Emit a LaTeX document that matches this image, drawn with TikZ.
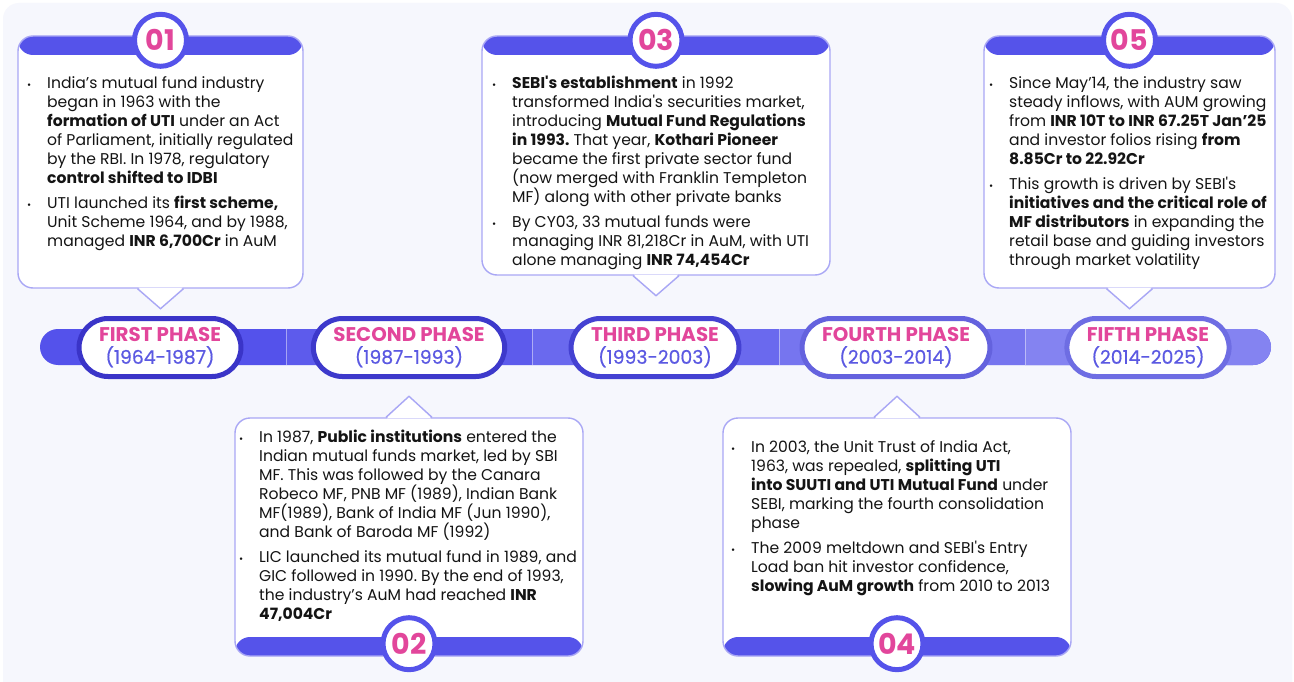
\documentclass[tikz,border=0pt]{standalone}
\usepackage{fontspec}
\setmainfont{Poppins}[Ligatures=TeXOff]
\usetikzlibrary{positioning}

\definecolor{panel}{HTML}{F6F7FD}
\definecolor{band}{HTML}{5553EA}
\definecolor{cardedge}{HTML}{A9A7F5}
\definecolor{pinky}{HTML}{E2469B}
\definecolor{yearblue}{HTML}{5B59E2}
\definecolor{ink}{HTML}{141414}
\definecolor{segA}{HTML}{5452EB}
\definecolor{segB}{HTML}{5D5BEC}
\definecolor{segC}{HTML}{6A69EE}
\definecolor{segD}{HTML}{7675EF}
\definecolor{segE}{HTML}{8483F1}
\definecolor{ringA}{HTML}{3A34C8}
\definecolor{ringB}{HTML}{3D39CB}
\definecolor{ringC}{HTML}{4441D2}
\definecolor{ringD}{HTML}{6462DE}
\definecolor{ringE}{HTML}{6E6DE3}

\newcommand{\bul}{\llap{{\fontsize{10}{10}\selectfont\textbullet}\hspace{16pt}}}
\newcommand{\phasehead}[1]{{\color{pinky}\bfseries\fontsize{19.8}{22}\selectfont #1}}
\newcommand{\phaseyear}[1]{{\color{yearblue}\addfontfeatures{FakeBold=0.5}#1}}
\frenchspacing

\begin{document}
\begin{tikzpicture}[x=1pt, y=-1pt,
    card/.style={draw=cardedge, line width=1.4pt, fill=white, rounded corners=15pt, inner sep=0pt},
    bandtop/.style={path picture={\fill[band] (path picture bounding box.north west) rectangle ([yshift=-19pt]path picture bounding box.north east);}},
    bandbot/.style={path picture={\fill[band] (path picture bounding box.south west) rectangle ([yshift=19pt]path picture bounding box.south east);}},
    tip/.style={draw=cardedge, line width=1.4pt},
    numdot/.style={circle, draw=band, line width=5pt, fill=white, minimum size=52pt, inner sep=0pt, text=pinky, font=\fontsize{28.5}{28}\selectfont\bfseries},
    pill/.style={rectangle, rounded corners=29pt, fill=white, line width=5pt, minimum height=58pt, inner xsep=20pt, inner ysep=0pt, align=center, font=\fontsize{18.8}{22}\selectfont},
    txt/.style={anchor=north west, inner sep=0pt, align=left, text=ink, font=\fontsize{15.6}{19}\selectfont}
]
\useasboundingbox (0,0) rectangle (1294,682);
\fill[white] (0,0) rectangle (1294,682);
\fill[panel, rounded corners=16pt] (3,3) rectangle (1292,700);

% timeline bar
\fill[segA, rounded corners=18pt] (40,329) rectangle (1271,365);
\fill[segB] (286,329) rectangle (532,365);
\fill[segC] (532,329) rectangle (779,365);
\fill[segD] (779,329) rectangle (1025,365);
\begin{scope}
    \clip (1025,320) rectangle (1290,372);
    \fill[segE, rounded corners=18pt] (990,329) rectangle (1271,365);
\end{scope}
\foreach \x in {286,532,779,1025}
    \draw[white, opacity=.45, line width=.8pt] (\x,329) -- (\x,365);

% phases
\node[pill, draw=ringA] (p1) at (160,347.5) {\phasehead{FIRST PHASE}\\\phaseyear{(1964-1987)}};
\node[pill, draw=ringB] (p2) at (409,347.5) {\phasehead{SECOND PHASE}\\\phaseyear{(1987-1993)}};
\node[pill, draw=ringC] (p3) at (655,347.5) {\phasehead{THIRD PHASE}\\\phaseyear{(1993-2003)}};
\node[pill, draw=ringD] (p4) at (896,347.5) {\phasehead{FOURTH PHASE}\\\phaseyear{(2003-2014)}};
\node[pill, draw=ringE] (p5) at (1148,347.5) {\phasehead{FIFTH PHASE}\\\phaseyear{(2014-2025)}};

% cards
\node[card, bandtop, minimum width=285pt, minimum height=252pt] (c1) at (160.5,162) {};
\node[card, bandtop, minimum width=348pt, minimum height=239pt] (c3) at (656,155.5) {};
\node[card, bandtop, minimum width=291pt, minimum height=252pt] (c5) at (1129.5,162) {};
\node[card, bandbot, minimum width=348pt, minimum height=238pt] (c2) at (409,537) {};
\node[card, bandbot, minimum width=348pt, minimum height=238pt] (c4) at (897,537) {};

\foreach \c in {c1,c3,c5} {
    \coordinate (t\c) at ([yshift=-20pt]\c.south);
    \fill[white] ([xshift=-22pt,yshift=1pt]\c.south) -- (t\c) -- ([xshift=22pt,yshift=1pt]\c.south) -- cycle;
    \draw[tip] ([xshift=-23pt]\c.south) -- (t\c) -- ([xshift=23pt]\c.south);
}
\foreach \c in {c2,c4} {
    \coordinate (t\c) at ([yshift=21pt]\c.north);
    \fill[white] ([xshift=-22pt,yshift=-1pt]\c.north) -- (t\c) -- ([xshift=22pt,yshift=-1pt]\c.north) -- cycle;
    \draw[tip] ([xshift=-23pt]\c.north) -- (t\c) -- ([xshift=23pt]\c.north);
}

\node[numdot] (n1) at ([yshift=-5pt]c1.north) {01};
\node[numdot] (n3) at ([yshift=-5pt]c3.north) {03};
\node[numdot] (n5) at ([yshift=-5pt]c5.north) {05};
\node[numdot] (n2) at ([yshift=13pt]c2.south) {02};
\node[numdot] (n4) at ([yshift=13pt]c4.south) {04};

% card texts
\node[txt] (x1) at (47,76) {\bul India’s mutual fund industry\\
began in 1963 with the\\
\textbf{formation of UTI} under an Act\\
of Parliament, initially regulated\\
by the RBI. In 1978, regulatory\\
\textbf{control shifted to IDBI}\\[6pt]
\bul UTI launched its \textbf{first scheme,}\\
Unit Scheme 1964, and by 1988,\\
managed \textbf{INR 6,700Cr} in AuM};

\node[txt] (x3) at (512,76) {\bul\textbf{SEBI's establishment} in 1992\\
transformed India's securities market,\\
introducing \textbf{Mutual Fund Regulations}\\
\textbf{in 1993.} That year, \textbf{Kothari Pioneer}\\
became the first private sector fund\\
(now merged with Franklin Templeton\\
MF) along with other private banks\\[6pt]
\bul By CY03, 33 mutual funds were\\
managing INR 81,218Cr in AuM, with UTI\\
alone managing \textbf{INR 74,454Cr}};

\node[txt] (x5) at (1009,76) {\bul Since May’14, the industry saw\\
steady inflows, with AUM growing\\
from \textbf{INR 10T to INR 67.25T Jan’25}\\
and investor folios rising \textbf{from}\\
\textbf{8.85Cr to 22.92Cr}\\[6pt]
\bul This growth is driven by SEBI's\\
\textbf{initiatives and the critical role of}\\
\textbf{MF distributors} in expanding the\\
retail base and guiding investors\\
through market volatility};

\node[txt] (x2) at (259,430) {\bul In 1987, \textbf{Public institutions} entered the\\
Indian mutual funds market, led by SBI\\
MF. This was followed by the Canara\\
Robeco MF, PNB MF (1989), Indian Bank\\
MF(1989), Bank of India MF (Jun 1990),\\
and Bank of Baroda MF (1992)\\[6pt]
\bul LIC launched its mutual fund in 1989, and\\
GIC followed in 1990. By the end of 1993,\\
the industry’s AuM had reached \textbf{INR}\\
\textbf{47,004Cr}};

\node[txt] (x4) at (751,440.5) {\bul In 2003, the Unit Trust of India Act,\\
1963, was repealed, \textbf{splitting UTI}\\
\textbf{into SUUTI and UTI Mutual Fund} under\\
SEBI, marking the fourth consolidation\\
phase\\[6pt]
\bul The 2009 meltdown and SEBI's Entry\\
Load ban hit investor confidence,\\
\textbf{slowing AuM growth} from 2010 to 2013};
\end{tikzpicture}
\end{document}
